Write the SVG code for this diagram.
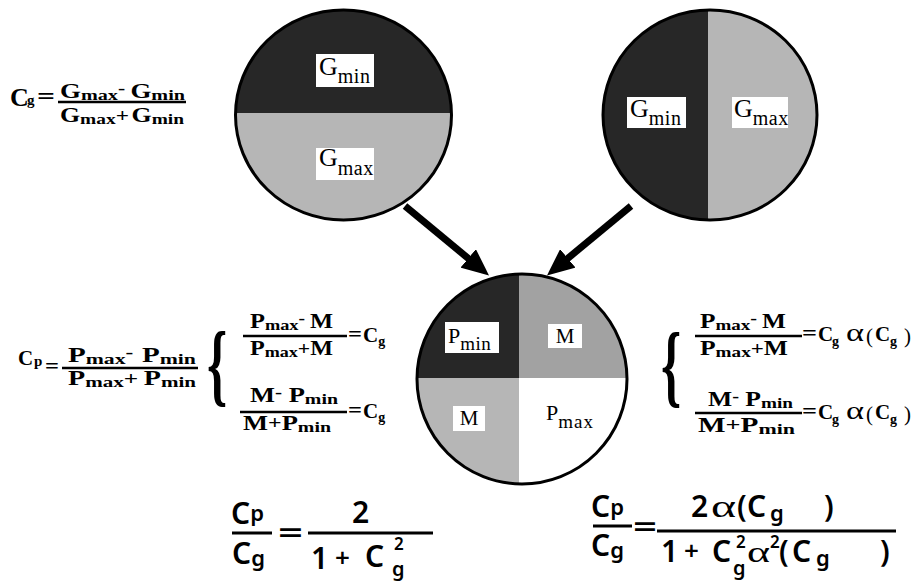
<svg xmlns="http://www.w3.org/2000/svg" width="920" height="584" viewBox="0 0 920 584">
<defs>
<style>
.f{font-family:"Liberation Serif","Times New Roman",serif;font-weight:bold;fill:#000}
.l{font-family:"Liberation Serif","Times New Roman",serif;fill:#000}
.b{font-family:"Noto Sans","Open Sans",sans-serif;font-weight:600;fill:#000}
.s{font-size:15px}
.bar{stroke:#000;stroke-width:2.5}
.bbar{stroke:#000;stroke-width:3}
.ring{fill:none;stroke:#000;stroke-width:3}
.box{fill:#fff}
.dark{fill:#272727}
.light{fill:#b6b6b6}
.mid{fill:#a2a2a2}
.arrow{stroke:#000;stroke-width:7;fill:none}
</style>
<marker id="ah" markerUnits="userSpaceOnUse" markerWidth="27" markerHeight="24" viewBox="0 0 27 24" refX="1" refY="12" orient="auto"><path d="M0,0 L27,12 L0,24 z" fill="#000"/></marker>
<clipPath id="c1"><ellipse cx="343.5" cy="115" rx="108" ry="105"/></clipPath>
<clipPath id="c2"><ellipse cx="710" cy="115" rx="107" ry="105"/></clipPath>
<clipPath id="c3"><circle cx="522" cy="379" r="105"/></clipPath>
</defs>
<rect width="920" height="584" fill="#fff"/>

<g id="circle-horizontal">
<g clip-path="url(#c1)">
<rect class="dark" x="230" y="0" width="230" height="113"/>
<rect class="light" x="230" y="113" width="230" height="120"/>
</g>
<ellipse class="ring" cx="343.5" cy="115" rx="108" ry="105"/>
<rect class="box" x="316" y="54" width="58" height="33"/>
<text class="l" font-size="26" x="319" y="75">G<tspan font-size="20" y="83" letter-spacing="0.5">min</tspan></text>
<rect class="box" x="316" y="148" width="58" height="32"/>
<text class="l" font-size="26" x="319" y="166">G<tspan font-size="20" y="175" letter-spacing="0.5">max</tspan></text>
</g>

<g id="circle-vertical">
<g clip-path="url(#c2)">
<rect class="dark" x="600" y="0" width="108" height="230"/>
<rect class="light" x="708" y="0" width="112" height="230"/>
</g>
<ellipse class="ring" cx="710" cy="115" rx="107" ry="105"/>
<rect class="box" x="627" y="97" width="59" height="31"/>
<text class="l" font-size="26" x="630" y="117">G<tspan font-size="20" y="125" letter-spacing="0.5">min</tspan></text>
<rect class="box" x="732" y="97" width="56" height="31"/>
<text class="l" font-size="26" x="734" y="117">G<tspan font-size="20" y="125" letter-spacing="0.5">max</tspan></text>
</g>

<g id="circle-quadrants">
<g clip-path="url(#c3)">
<rect class="dark" x="410" y="270" width="109" height="108"/>
<rect class="mid" x="519" y="270" width="115" height="108"/>
<rect class="light" x="410" y="378" width="109" height="110"/>
<rect fill="#fff" x="519" y="378" width="115" height="110"/>
</g>
<circle class="ring" cx="522" cy="379" r="105"/>
<rect class="box" x="445" y="322" width="54" height="31"/>
<text class="l" font-size="22" x="448" y="343">P<tspan font-size="19" y="350" letter-spacing="0.5">min</tspan></text>
<rect class="box" x="548" y="324" width="34" height="24"/>
<text class="l" font-size="21" x="565" y="343" text-anchor="middle">M</text>
<rect class="box" x="453" y="406" width="32" height="25"/>
<text class="l" font-size="21" x="469" y="425" text-anchor="middle">M</text>
<text class="l" font-size="22" x="546" y="420">P<tspan font-size="19" y="428" letter-spacing="1">max</tspan></text>
</g>

<g id="connectors">
<line class="arrow" x1="405" y1="206" x2="469" y2="259" marker-end="url(#ah)"/>
<line class="arrow" x1="631" y1="206" x2="567" y2="259" marker-end="url(#ah)"/>
</g>

<g id="eq-cg">
<text class="f" font-size="26" x="10" y="106">C</text>
<text class="f" font-size="15" x="27" y="105">g</text>
<text class="f" font-size="24" x="37" y="104" textLength="18" lengthAdjust="spacingAndGlyphs">=</text>
<line class="bar" x1="58" y1="102" x2="186" y2="102"/>
<text class="f" font-size="20" x="60" y="98" textLength="125" lengthAdjust="spacingAndGlyphs">G<tspan class="s" dy="2">max</tspan><tspan font-size="16" dy="-6">-</tspan><tspan dy="4" dx="4">G</tspan><tspan class="s" dy="2">min</tspan></text>
<text class="f" font-size="20" x="60" y="122" textLength="124" lengthAdjust="spacingAndGlyphs">G<tspan class="s" dy="2">max</tspan><tspan font-size="18" dy="-2">+</tspan><tspan dx="2">G</tspan><tspan class="s" dy="2">min</tspan></text>
</g>

<g id="eq-cp">
<text class="f" font-size="21" x="18" y="365">C</text>
<text class="f" font-size="15" x="34" y="366">p</text>
<text class="f" font-size="22" x="45" y="373" textLength="14" lengthAdjust="spacingAndGlyphs">=</text>
<line class="bar" x1="62" y1="368" x2="198" y2="368"/>
<text class="f" font-size="20" x="68" y="362" textLength="128" lengthAdjust="spacingAndGlyphs">P<tspan class="s" dy="2">max</tspan><tspan font-size="16" dy="-6">-</tspan><tspan dy="4" dx="6">P</tspan><tspan class="s" dy="2">min</tspan></text>
<text class="f" font-size="20" x="68" y="385" textLength="128" lengthAdjust="spacingAndGlyphs">P<tspan class="s" dy="2">max</tspan><tspan font-size="18" dy="-2">+</tspan><tspan dx="4">P</tspan><tspan class="s" dy="2">min</tspan></text>
</g>

<g id="eq-left-system">
<text class="f" font-size="90" transform="translate(207,394) scale(0.57,1)" x="0" y="0">{</text>
<text class="f" font-size="20" x="250" y="328" textLength="83" lengthAdjust="spacingAndGlyphs">P<tspan class="s" dy="2">max</tspan><tspan font-size="16" dy="-6">-</tspan><tspan dy="4" dx="4">M</tspan></text>
<line class="bar" x1="243" y1="336" x2="347" y2="336"/>
<text class="f" font-size="20" x="250" y="355" textLength="83" lengthAdjust="spacingAndGlyphs">P<tspan class="s" dy="2">max</tspan><tspan font-size="18" dy="-2">+</tspan><tspan>M</tspan></text>
<text class="f" font-size="20" x="348" y="341" textLength="14" lengthAdjust="spacingAndGlyphs">=</text>
<text class="f" font-size="21" x="363" y="342">C<tspan font-size="14" y="346">g</tspan></text>
<text class="f" font-size="20" x="250" y="402" textLength="88" lengthAdjust="spacingAndGlyphs">M<tspan font-size="16" dy="-4">-</tspan><tspan dy="4" dx="5">P</tspan><tspan class="s" dy="2">min</tspan></text>
<line class="bar" x1="240" y1="412" x2="347" y2="412"/>
<text class="f" font-size="20" x="243" y="430" textLength="88" lengthAdjust="spacingAndGlyphs">M<tspan font-size="18" dy="-1">+</tspan><tspan dy="1">P</tspan><tspan class="s" dy="2">min</tspan></text>
<text class="f" font-size="20" x="348" y="417" textLength="14" lengthAdjust="spacingAndGlyphs">=</text>
<text class="f" font-size="21" x="363" y="418">C<tspan font-size="14" y="422">g</tspan></text>
</g>

<g id="eq-right-system">
<text class="f" font-size="90" transform="translate(661,395) scale(0.57,1)" x="0" y="0">{</text>
<text class="f" font-size="20" x="700" y="328" textLength="86" lengthAdjust="spacingAndGlyphs">P<tspan class="s" dy="2">max</tspan><tspan font-size="16" dy="-6">-</tspan><tspan dy="4" dx="4">M</tspan></text>
<line class="bar" x1="695" y1="336" x2="802" y2="336"/>
<text class="f" font-size="20" x="700" y="355" textLength="88" lengthAdjust="spacingAndGlyphs">P<tspan class="s" dy="2">max</tspan><tspan font-size="18" dy="-2">+</tspan><tspan>M</tspan></text>
<text class="f" font-size="20" x="802" y="340" textLength="15" lengthAdjust="spacingAndGlyphs">=</text>
<text class="f" font-size="21" y="341"><tspan x="818">C</tspan><tspan x="832" y="346" font-size="14">g</tspan></text>
<text class="l" font-size="26" x="846" y="341" textLength="18" lengthAdjust="spacingAndGlyphs">α</text>
<text class="f" font-size="21" y="341"><tspan x="866" y="343" font-weight="normal">(</tspan><tspan x="875" y="341">C</tspan><tspan x="890" y="346" font-size="14">g</tspan><tspan x="904" y="343" font-weight="normal">)</tspan></text>
<text class="f" font-size="20" x="708" y="406" textLength="85" lengthAdjust="spacingAndGlyphs">M<tspan font-size="16" dy="-4">-</tspan><tspan dy="4" dx="5">P</tspan><tspan class="s" dy="2">min</tspan></text>
<line class="bar" x1="695" y1="413" x2="802" y2="413"/>
<text class="f" font-size="20" x="698" y="432" textLength="97" lengthAdjust="spacingAndGlyphs">M<tspan font-size="18" dy="-1">+</tspan><tspan dy="1">P</tspan><tspan class="s" dy="2">min</tspan></text>
<text class="f" font-size="20" x="802" y="418" textLength="15" lengthAdjust="spacingAndGlyphs">=</text>
<text class="f" font-size="21" y="419"><tspan x="818">C</tspan><tspan x="832" y="424" font-size="14">g</tspan></text>
<text class="l" font-size="26" x="846" y="419" textLength="18" lengthAdjust="spacingAndGlyphs">α</text>
<text class="f" font-size="21" y="419"><tspan x="866" y="421" font-weight="normal">(</tspan><tspan x="875" y="419">C</tspan><tspan x="890" y="424" font-size="14">g</tspan><tspan x="904" y="421" font-weight="normal">)</tspan></text>
</g>

<g id="eq-ratio-left">
<text class="b" font-size="30" x="231" y="524">C<tspan font-size="22" y="521">p</tspan></text>
<line class="bbar" x1="232" y1="533" x2="272" y2="533"/>
<text class="b" font-size="30" x="232" y="564">C<tspan font-size="22" y="566">g</tspan></text>
<text class="b" font-size="30" x="278" y="543" textLength="25" lengthAdjust="spacingAndGlyphs">=</text>
<line class="bbar" x1="308" y1="533" x2="433" y2="533"/>
<text class="b" font-size="30" x="352" y="523">2</text>
<text class="b" font-size="30" y="569"><tspan x="311">1</tspan><tspan x="335" y="567" font-size="26">+</tspan><tspan x="365" y="567">C</tspan></text>
<text class="b" font-size="17" x="394" y="550">2</text>
<text class="b" font-size="20" x="392" y="576">g</text>
</g>

<g id="eq-ratio-right">
<text class="b" font-size="30" x="591" y="517">C<tspan font-size="22" y="515">p</tspan></text>
<line class="bbar" x1="593" y1="526" x2="632" y2="526"/>
<text class="b" font-size="30" x="591" y="556">C<tspan font-size="22" y="558">g</tspan></text>
<text class="b" font-size="30" x="633" y="537" textLength="24" lengthAdjust="spacingAndGlyphs">=</text>
<line class="bbar" x1="657" y1="531" x2="896" y2="531"/>
<text class="b" font-size="30" x="691" y="517">2</text>
<text class="l" font-size="32" x="711" y="517" textLength="25" lengthAdjust="spacingAndGlyphs">α</text>
<text class="b" font-size="30" y="517"><tspan x="737">(</tspan><tspan x="747">C</tspan><tspan x="770" y="521" font-size="22">g</tspan><tspan x="824" y="517">)</tspan></text>
<text class="b" font-size="30" y="562"><tspan x="661">1</tspan><tspan x="684" y="560" font-size="26">+</tspan><tspan x="712" y="562">C</tspan></text>
<text class="b" font-size="17" x="736" y="548">2</text>
<text class="b" font-size="20" x="733" y="575">g</text>
<text class="l" font-size="30" x="747" y="562" textLength="23" lengthAdjust="spacingAndGlyphs">α</text>
<text class="b" font-size="17" x="770" y="548">2</text>
<text class="b" font-size="30" y="562"><tspan x="779">(</tspan><tspan x="792">C</tspan><tspan x="816" y="566" font-size="22">g</tspan><tspan x="880" y="562">)</tspan></text>
</g>
</svg>
